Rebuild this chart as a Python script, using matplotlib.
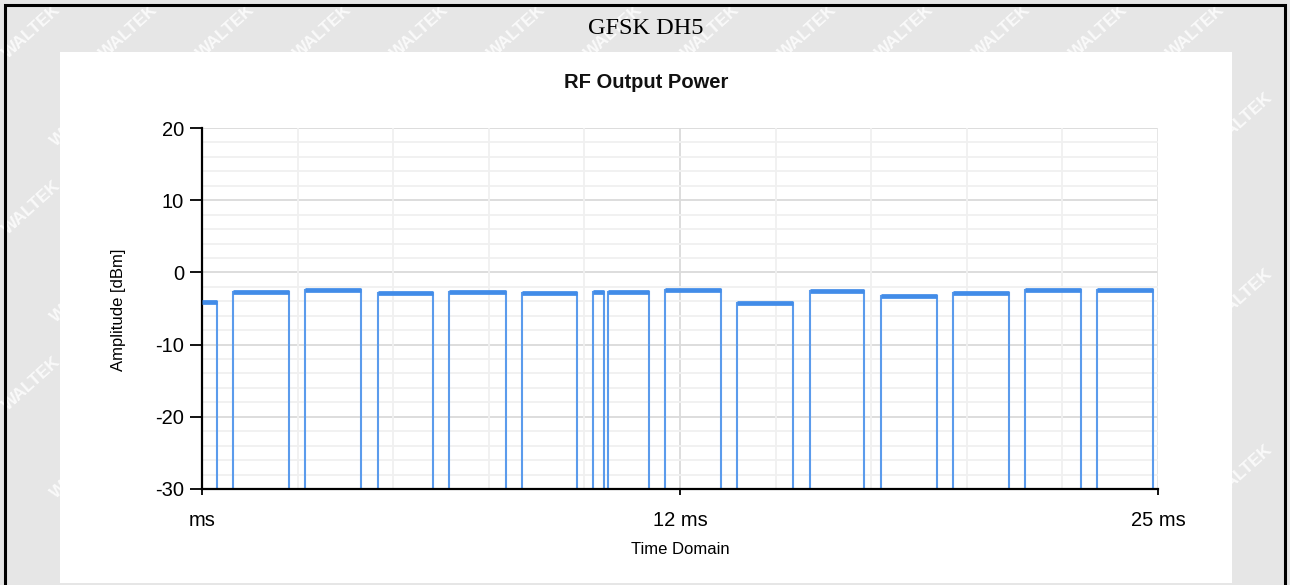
import matplotlib
matplotlib.use("Agg")
import matplotlib.pyplot as plt
from matplotlib.patches import Rectangle
from matplotlib.ticker import MultipleLocator
import numpy as np

plt.rcParams["axes.unicode_minus"] = False

# ---- data ----
pulse_start_ms = [0.00, 0.82, 2.70, 4.59, 6.47, 8.36, 10.22, 10.63, 12.12, 14.00, 15.89, 17.75, 19.65, 21.53, 23.41]
pulse_end_ms = [0.39, 2.27, 4.16, 6.03, 7.94, 9.81, 10.51, 11.68, 13.57, 15.45, 17.32, 19.21, 21.11, 22.99, 24.86]
pulse_level_dbm = [-4.1, -2.7, -2.4, -2.9, -2.7, -2.8, -2.7, -2.7, -2.4, -4.3, -2.6, -3.2, -2.8, -2.5, -2.4]
floor_dbm = -40.0
x_ticks = [0, 12.5, 25]
x_tick_labels = ["ms", "12 ms", "25 ms"]
y_ticks = [-30, -20, -10, 0, 10, 20]

# build waveform
t, y = [], []
for s, e, lv in zip(pulse_start_ms, pulse_end_ms, pulse_level_dbm):
    t += [s, s, e, e]
    y += [floor_dbm if s > 0 else lv, lv, lv, floor_dbm]

W, H = 1290, 585
fig = plt.figure(figsize=(W / 100, H / 100), dpi=100)
fig.patch.set_facecolor("#e6e6e6")

# watermarks (kept fully inside the figure)
for row, yy in enumerate(np.arange(32, H - 25, 88)):
    off = 0 if row % 2 == 0 else 48
    for xx in np.arange(32 + off, W - 30, 97):
        fig.text(xx / W, 1 - yy / H, "WALTEK", rotation=42, fontsize=12.5, fontweight="bold",
                 color="white", alpha=0.8, ha="center", va="center",
                 family="Liberation Sans", zorder=0)

# white panel
fig.patches.append(Rectangle((60 / W, 1 - 583 / H), (1232 - 60) / W, (583 - 52) / H,
                             transform=fig.transFigure, facecolor="white", edgecolor="none", zorder=1))
# outer border
fig.patches.append(Rectangle((5 / W, -0.02), (1285 - 5) / W, 1 - 5 / H + 0.02,
                             transform=fig.transFigure, facecolor="none", edgecolor="black",
                             linewidth=2.2, zorder=3))

fig.text(646 / W, 1 - 28 / H, "GFSK DH5", family="Liberation Serif", fontsize=17.5,
         ha="center", va="center", zorder=4)
fig.text(646 / W, 1 - 83 / H, "RF Output Power", family="Liberation Sans", fontsize=14.5,
         fontweight="bold", ha="center", va="center", zorder=4, color="#111111")

ax = fig.add_axes([202 / W, 1 - 489 / H, (1158 - 202) / W, (489 - 128) / H], zorder=5)
ax.set_facecolor("none")
ax.set_xlim(0, 25)
ax.set_ylim(-30, 20)

# grid
ax.xaxis.set_minor_locator(MultipleLocator(2.5))
ax.yaxis.set_minor_locator(MultipleLocator(2))
ax.grid(which="minor", color="#f0f0f0", linewidth=1.3, zorder=0)
for yv in y_ticks[1:]:
    ax.axhline(yv, color="#dadada", linewidth=1.3, zorder=0)
ax.axvline(12.5, color="#dadada", linewidth=1.3, zorder=0)
ax.axvline(25, color="#e4e4e4", linewidth=1.3, zorder=0)
ax.tick_params(which="minor", length=0)

ax.plot(t, y, color="#5b9bec", linewidth=1.5, zorder=2, solid_joinstyle="miter")
ax.hlines(pulse_level_dbm, pulse_start_ms, pulse_end_ms, color="#428ce8", linewidth=3.4, zorder=3)

for sp in ["top", "right"]:
    ax.spines[sp].set_visible(False)
for sp in ["left", "bottom"]:
    ax.spines[sp].set_color("black")
    ax.spines[sp].set_linewidth(1.6)

ax.set_yticks(y_ticks)
ax.set_xticks(x_ticks)
ax.set_xticklabels(x_tick_labels)
ax.tick_params(axis="y", length=9, width=1.3, pad=4, labelsize=14.5, colors="black")
ax.tick_params(axis="x", length=4, width=1.3, pad=12, labelsize=14.5, colors="black")
for lab in ax.get_xticklabels() + ax.get_yticklabels():
    lab.set_family("Liberation Sans")

fig.text(118 / W, 1 - 310 / H, "Amplitude [dBm]", rotation=90, family="Liberation Sans",
         fontsize=12, ha="center", va="center", zorder=4)
fig.text(680 / W, 1 - 549 / H, "Time Domain", family="Liberation Sans",
         fontsize=12, ha="center", va="center", zorder=4)

fig.savefig("out.png", dpi=100)
